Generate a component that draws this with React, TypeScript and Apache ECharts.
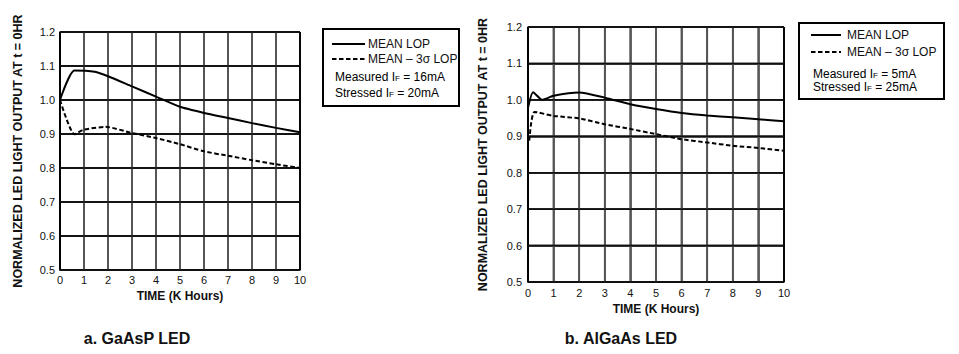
import React, { useEffect, useRef } from "react";
import * as echarts from "echarts";

// Chart a: GaAsP LED
const aMeanX = [0, 0.6, 1.45, 2, 3, 4, 5, 6, 7, 8, 9, 10];
const aMeanY = [1.0, 1.087, 1.083, 1.07, 1.04, 1.01, 0.98, 0.962, 0.947, 0.932, 0.918, 0.905];
const aLowX = [0, 0.6, 1, 1.9, 3, 4, 5, 6, 7, 8, 9, 10];
const aLowY = [1.0, 0.899, 0.913, 0.921, 0.903, 0.888, 0.87, 0.849, 0.836, 0.823, 0.811, 0.8];

// Chart b: AlGaAs LED
const bMeanX = [0, 0.2, 0.55, 1, 2, 3, 4, 5, 6, 7, 8, 9, 10];
const bMeanY = [0.978, 1.021, 1.0, 1.011, 1.02, 1.006, 0.988, 0.975, 0.964, 0.957, 0.952, 0.947, 0.941];
const bLowX = [0.05, 0.25, 1, 2, 3, 4, 5, 6, 7, 8, 9, 10];
const bLowY = [0.888, 0.967, 0.956, 0.949, 0.933, 0.92, 0.906, 0.892, 0.883, 0.874, 0.868, 0.86];

const yTicks = ["0.5", "0.6", "0.7", "0.8", "0.9", "1.0", "1.1", "1.2"];
const xTicks = ["0", "1", "2", "3", "4", "5", "6", "7", "8", "9", "10"];
const yName = "NORMALIZED LED LIGHT OUTPUT AT t = 0HR";
const xName = "TIME (K Hours)";
const legendMean = "MEAN LOP";
const legendLow = "MEAN \u2013 3\u03c3 LOP";
const aMeasured = "16mA";
const aStressed = "20mA";
const bMeasured = "5mA";
const bStressed = "25mA";
const titleA = "a. GaAsP LED";
const titleB = "b. AlGaAs LED";

const FONT = "Liberation Sans, Arial, sans-serif";

const zip = (xs: number[], ys: number[]) => xs.map((x, i) => [x, ys[i]]);

function xAxis(gridIndex: number, margin: number, nameGap: number) {
  return {
    type: "value",
    gridIndex,
    min: 0,
    max: 10,
    interval: 1,
    name: xName,
    nameLocation: "middle",
    nameGap,
    nameTextStyle: { fontFamily: FONT, fontSize: 12, fontWeight: "bold", color: "#111" },
    axisLine: { show: true, onZero: false, lineStyle: { color: "#000", width: 1.5 } },
    axisTick: { show: false },
    axisLabel: {
      margin,
      fontFamily: FONT,
      fontSize: 11,
      color: "#111",
      formatter: (v: number) => xTicks[Math.round(v)] ?? "",
    },
    splitLine: { show: true, lineStyle: { color: "#555", width: 1.6 } },
  };
}

function yAxis(gridIndex: number, margin: number, nameGap: number) {
  return {
    type: "value",
    gridIndex,
    min: 0.5,
    max: 1.2,
    interval: 0.1,
    name: yName,
    nameLocation: "middle",
    nameRotate: 90,
    nameGap,
    nameTextStyle: { fontFamily: FONT, fontSize: 12.5, fontWeight: "bold", color: "#111" },
    axisLine: { show: true, onZero: false, lineStyle: { color: "#000", width: 1.5 } },
    axisTick: { show: false },
    axisLabel: {
      margin,
      fontFamily: FONT,
      fontSize: 11,
      color: "#111",
      formatter: (v: number) => yTicks[Math.round((v - 0.5) * 10)] ?? "",
    },
    splitLine: { show: true, lineStyle: { color: "#111", width: 1.5 } },
  };
}

// Grid lines as two-point line series through the axes' own scales (drawn above any cover)
function gridSeries(idx: number) {
  const yMin = Number(yTicks[0]);
  const yMax = Number(yTicks[yTicks.length - 1]);
  const xMin = Number(xTicks[0]);
  const xMax = Number(xTicks[xTicks.length - 1]);
  const mk = (data: number[][], color: string, width: number) => ({
    type: "line",
    xAxisIndex: idx,
    yAxisIndex: idx,
    data,
    symbol: "none",
    clip: false,
    z: 8,
    lineStyle: { color, width, type: "solid" },
  });
  const verticals = xTicks.map((t, i) => {
    const edge = i === 0 || i === xTicks.length - 1;
    return mk([[Number(t), yMin], [Number(t), yMax]], edge ? "#000" : "#555", edge ? 1.5 : 1.7);
  });
  const horizontals = yTicks.map((t) => mk([[xMin, Number(t)], [xMax, Number(t)]], "#111", 1.5));
  return [...verticals, ...horizontals];
}

const rich = {
  n: { fontFamily: FONT, fontSize: 12, color: "#111", lineHeight: 15, verticalAlign: "bottom" },
  s: { fontFamily: FONT, fontSize: 8, color: "#111", lineHeight: 15, verticalAlign: "bottom" },
};

function legendBox(
  box: { x: number; y: number; w: number; h: number },
  lineX1: number,
  lineX2: number,
  textX: number,
  y1: number,
  y2: number,
  infoX: number,
  y3: number,
  y4: number,
  measured: string,
  stressed: string
) {
  const txt = (x: number, y: number, t: string) => ({
    type: "text",
    x,
    y,
    style: { text: t, fontFamily: FONT, fontSize: 12, fill: "#111", verticalAlign: "middle" },
  });
  const richTxt = (x: number, y: number, label: string, val: string) => ({
    type: "text",
    x,
    y,
    style: {
      text: `{n|${label} I}{s|F}{n| = ${val}}`,
      rich,
      verticalAlign: "middle",
    },
  });
  return [
    {
      type: "rect",
      shape: { x: box.x, y: box.y, width: box.w, height: box.h },
      style: { fill: "#fff", stroke: "#000", lineWidth: 2 },
    },
    {
      type: "line",
      shape: { x1: lineX1, y1: y1, x2: lineX2, y2: y1 },
      style: { stroke: "#000", lineWidth: 2 },
    },
    {
      type: "line",
      shape: { x1: lineX1, y1: y2, x2: lineX2, y2: y2 },
      style: { stroke: "#000", lineWidth: 2, lineDash: [4.5, 2.5] },
    },
    txt(textX, y1, legendMean),
    txt(textX, y2, legendLow),
    richTxt(infoX, y3, "Measured", measured),
    richTxt(infoX, y4, "Stressed", stressed),
  ];
}

export default function App() {
  const ref = useRef<HTMLDivElement>(null);
  useEffect(() => {
    if (!ref.current) return;
    const chart = echarts.init(ref.current, undefined, { renderer: "svg" });
    const lineSeries = (idx: number, data: number[][], dashed: boolean) => ({
      type: "line",
      xAxisIndex: idx,
      yAxisIndex: idx,
      data,
      symbol: "none",
      smooth: 0.2,
      z: 9,
      lineStyle: { color: "#000", width: 2, type: dashed ? [4.5, 2.5] : "solid" },
    });
    const baseGraphic = [
      ...legendBox({ x: 323, y: 29, w: 136, h: 77 }, 332, 365, 368, 44, 59, 335, 75, 91, aMeasured, aStressed),
      ...legendBox({ x: 799, y: 23, w: 145, h: 76 }, 811, 841, 847, 35, 52, 813, 72, 85, bMeasured, bStressed),
      {
        type: "text",
        x: 137,
        y: 338,
        style: { text: titleA, fontFamily: FONT, fontSize: 16, fontWeight: "bold", fill: "#111", align: "center", verticalAlign: "middle" },
      },
      {
        type: "text",
        x: 621,
        y: 338,
        style: { text: titleB, fontFamily: FONT, fontSize: 16, fontWeight: "bold", fill: "#111", align: "center", verticalAlign: "middle" },
      },
    ];
    chart.setOption({
      animation: false,
      grid: [
        { left: 60, top: 32, width: 240, height: 238 },
        { left: 528, top: 27, width: 256, height: 255 },
      ],
      xAxis: [xAxis(0, 4, 20), xAxis(1, 5, 21)],
      yAxis: [yAxis(0, 5, 36), yAxis(1, 6, 39)],
      series: [
        ...gridSeries(0),
        ...gridSeries(1),
        lineSeries(0, zip(aMeanX, aMeanY), false),
        lineSeries(0, zip(aLowX, aLowY), true),
        lineSeries(1, zip(bMeanX, bMeanY), false),
        lineSeries(1, zip(bLowX, bLowY), true),
      ],
      graphic: baseGraphic,
    });

    // Fallback grid lines placed with the library's own scale conversion
    try {
      const extra: any[] = [];
      [0, 1].forEach((g) => {
        const yMin = Number(yTicks[0]);
        const yMax = Number(yTicks[yTicks.length - 1]);
        const xMin = Number(xTicks[0]);
        const xMax = Number(xTicks[xTicks.length - 1]);
        xTicks.forEach((t, i) => {
          const p1 = chart.convertToPixel({ gridIndex: g } as any, [Number(t), yMin]) as number[];
          const p2 = chart.convertToPixel({ gridIndex: g } as any, [Number(t), yMax]) as number[];
          const edge = i === 0 || i === xTicks.length - 1;
          if (p1 && p2 && isFinite(p1[0]) && isFinite(p2[1])) {
            extra.push({
              type: "line",
              z: 8,
              shape: { x1: p1[0], y1: p1[1], x2: p2[0], y2: p2[1] },
              style: { stroke: edge ? "#000" : "#555", lineWidth: edge ? 1.5 : 1.7 },
            });
          }
        });
        yTicks.forEach((t) => {
          const p1 = chart.convertToPixel({ gridIndex: g } as any, [xMin, Number(t)]) as number[];
          const p2 = chart.convertToPixel({ gridIndex: g } as any, [xMax, Number(t)]) as number[];
          if (p1 && p2 && isFinite(p1[1]) && isFinite(p2[0])) {
            extra.push({
              type: "line",
              z: 8,
              shape: { x1: p1[0], y1: p1[1], x2: p2[0], y2: p2[1] },
              style: { stroke: "#111", lineWidth: 1.5 },
            });
          }
        });
      });
      if (extra.length) {
        chart.setOption({ graphic: [...baseGraphic, ...extra] });
      }
    } catch (e) {
      // ignore
    }
    return () => chart.dispose();
  }, []);
  return (
    <div
      ref={ref}
      style={{ position: "absolute", left: 0, top: 0, width: 959, height: 354 }}
    />
  );
}
